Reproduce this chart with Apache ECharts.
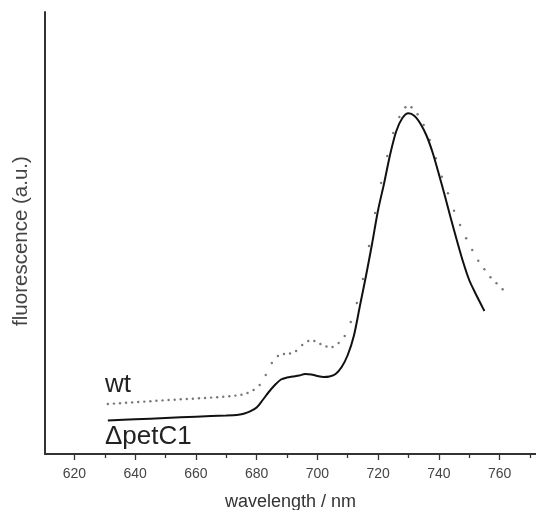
<!DOCTYPE html>
<html><head><meta charset="utf-8">
<script src="https://cdn.jsdelivr.net/npm/echarts@6/dist/echarts.min.js"></script>
<style>html,body{margin:0;padding:0;background:#fff}#c{width:536px;height:510px}</style>
</head><body><div id="c"></div>
<script>
// wavelength ticks
const majorTicks = [620, 640, 660, 680, 700, 720, 740, 760];
const minorTicks = [610, 630, 650, 670, 690, 710, 730, 750, 770];

// wt (dotted) spectrum, a.u.
const wtWavelength = [631,633,635,637,639,641,643,645,647,649,651,653,655,657,659,661,663,665,667,669,671,673,675,677,679,681,683,685,687,689,691,693,695,697,699,701,703,705,707,709,711,713,715,717,719,721,723,725,727,729,731,733,735,737,739,741,743,745,747,749,751,753,755,757,759,761];
const wtFluor = [50,50.4,50.8,51.2,51.6,52,52.4,52.8,53.2,53.6,54,54.3,54.7,55,55.3,55.7,56,56.4,56.8,57.2,57.7,58.4,59.3,61,64,69,79,91,98,100,100.5,103,109,113,113,110,107.5,107,111,118,132,151,175,208,241,271,298,321,337,346.7,346.7,339.7,329,314,295.7,277.3,260.7,243.3,229,215.7,204,193.3,184.7,176.7,170.7,164.7];

// ΔpetC1 (solid) spectrum, a.u.
const petWavelength = [631,640,650,660,670,674,676,678,680,682,684,686,688,690,692,694,696,698,700,702,704,706,708,710,712,714,716,718,720,722,724,726,728,730,732,734,736,738,740,742,744,746,748,750,752,754,755];
const petFluor = [33.5,34.7,36,37.3,38.5,39.3,40.5,42.8,46.5,54,62,69,74.5,76.5,77.5,78.5,80,79.5,78,77,77.5,80,87,99,118,148,178,210,244,271,300,323,336,340.7,338,330,318,301,280,258,235,213,192,174,161,149,143];

const font = 'Liberation Sans, Arial, sans-serif';
const zip = (a, b) => a.map((x, i) => [x, b[i]]);

const chart = echarts.init(document.getElementById('c'), null, {renderer: 'canvas'});
chart.setOption({
  animation: false,
  backgroundColor: '#fff',
  grid: {left: 45, top: 12, right: 0, bottom: 56, containLabel: false, outerBoundsMode: 'none'},
  xAxis: [{
    type: 'value', min: 610.3, max: 772,
    name: 'wavelength / nm', nameLocation: 'middle', nameGap: 39,
    nameTextStyle: {fontFamily: font, fontSize: 18, color: '#333'},
    axisLine: {show: true, onZero: false, lineStyle: {color: '#333', width: 2}},
    axisTick: {show: true, customValues: majorTicks, length: 6, inside: false, lineStyle: {color: '#333', width: 1.3}},
    axisLabel: {show: true, customValues: majorTicks, margin: 13, fontFamily: font, fontSize: 14, color: '#444'},
    splitLine: {show: false}
  }, {
    type: 'value', min: 610.3, max: 772, position: 'bottom',
    axisLine: {show: false},
    axisTick: {show: true, customValues: minorTicks, length: 4, lineStyle: {color: '#333', width: 1.3}},
    axisLabel: {show: false},
    splitLine: {show: false}
  }],
  yAxis: {
    type: 'value', min: 0, max: 442,
    name: 'fluorescence (a.u.)', nameLocation: 'middle', nameGap: 13, nameRotate: 90,
    nameTextStyle: {fontFamily: font, fontSize: 20.5, color: '#444', padding: [0, 16, 0, 0]},
    axisLine: {show: true, lineStyle: {color: '#333', width: 2}},
    axisTick: {show: false}, axisLabel: {show: false}, splitLine: {show: false}
  },
  series: [{
    name: 'wt', type: 'scatter', data: zip(wtWavelength, wtFluor),
    symbol: 'circle', symbolSize: 2.4, itemStyle: {color: '#555'}, silent: true
  }, {
    name: 'ΔpetC1', type: 'line', data: zip(petWavelength, petFluor),
    smooth: 0.3, showSymbol: false, lineStyle: {color: '#111', width: 2}, silent: true
  }],
  graphic: [
    {type: 'text', left: 105, top: 372, style: {text: 'wt', font: '26px ' + font, fill: '#222'}},
    {type: 'text', left: 105, top: 424, style: {text: 'ΔpetC1', font: '26px ' + font, fill: '#222'}}
  ]
});
</script></body></html>
